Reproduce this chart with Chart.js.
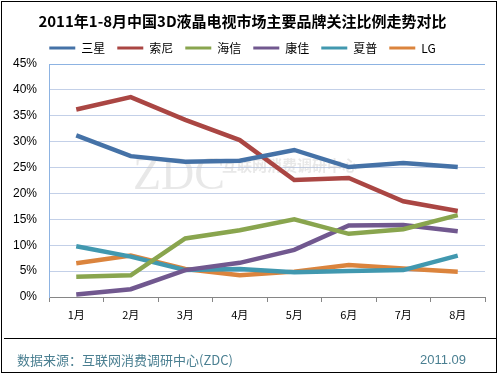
<!DOCTYPE html>
<html>
<head>
<meta charset="utf-8">
<script src="https://cdn.jsdelivr.net/npm/chart.js@4/dist/chart.umd.min.js"></script>
<style>
html,body{margin:0;padding:0;background:#fff;}
#wrap{width:500px;height:375px;position:relative;}
</style>
</head>
<body>
<div id="wrap"><canvas id="c" width="500" height="375"></canvas></div>
<script>
const categories = ['1月','2月','3月','4月','5月','6月','7月','8月'];
const seriesNames = ['三星','索尼','海信','康佳','夏普','LG'];
const samsung = [31.2, 27.2, 26.1, 26.3, 28.4, 25.1, 25.9, 25.1];
const sony    = [36.2, 38.6, 34.2, 30.3, 22.6, 23.0, 18.5, 16.6];
const hisense = [3.9, 4.2, 11.3, 12.9, 15.0, 12.2, 13.1, 15.8];
const konka   = [0.5, 1.5, 5.2, 6.6, 9.1, 13.8, 13.9, 12.7];
const sharp   = [9.8, 7.8, 5.2, 5.4, 4.8, 5.0, 5.2, 8.0];
const lg      = [6.5, 8.0, 5.4, 4.2, 4.9, 6.2, 5.5, 4.9];
const yTicks  = [0, 5, 10, 15, 20, 25, 30, 35, 40, 45];
const colors  = ['#4572A7','#AA4643','#89A54E','#71588F','#4198AF','#DB843D'];
const allSeries = [samsung, sony, hisense, konka, sharp, lg];

const fontFam = '"Noto Sans CJK SC", "Liberation Sans", sans-serif';

const decor = {
  id: 'decor',
  beforeDatasetsDraw(chart) {
    const ctx = chart.ctx;
    ctx.save();
    ctx.fillStyle = 'rgba(195,195,195,0.38)';
    ctx.font = '46px "Liberation Serif", serif';
    ctx.textBaseline = 'alphabetic';
    ctx.textAlign = 'left';
    ctx.fillText('ZDC', 133, 189);
    ctx.font = 'bold 15px ' + fontFam;
    ctx.fillText('互联网消费调研中心', 222, 171);
    ctx.restore();
  },
  afterDraw(chart) {
    const ctx = chart.ctx;
    ctx.save();
    ctx.strokeStyle = '#000';
    ctx.lineWidth = 1;
    ctx.strokeRect(1.5, 1.5, 495, 371);
    ctx.beginPath();
    ctx.moveTo(4, 338.5);
    ctx.lineTo(496, 338.5);
    ctx.stroke();
    ctx.fillStyle = '#4a7f91';
    ctx.font = '13px ' + fontFam;
    ctx.textBaseline = 'middle';
    ctx.textAlign = 'left';
    ctx.fillText('数据来源：互联网消费调研中心(ZDC)', 17, 360);
    ctx.textAlign = 'right';
    ctx.font = '13px "Liberation Sans", sans-serif';
    ctx.fillText('2011.09', 466, 360);
    ctx.restore();
  }
};

new Chart(document.getElementById('c'), {
  type: 'line',
  data: {
    labels: categories,
    datasets: allSeries.map((d, i) => ({
      label: seriesNames[i],
      data: d,
      borderColor: colors[i],
      backgroundColor: colors[i],
      borderWidth: 4.5,
      pointRadius: 0,
      tension: 0,
      fill: false
    }))
  },
  options: {
    responsive: false,
    animation: false,
    devicePixelRatio: 1,
    layout: { padding: { left: 0, right: 15, top: 0, bottom: 45 } },
    plugins: {
      title: {
        display: true,
        text: '2011年1-8月中国3D液晶电视市场主要品牌关注比例走势对比',
        color: '#000',
        font: { family: fontFam, size: 15, weight: 'bold' },
        padding: { top: 12, bottom: 0 }
      },
      legend: {
        display: true,
        labels: {
          boxWidth: 26,
          boxHeight: 3,
          padding: 12,
          color: '#000',
          font: { family: fontFam, size: 12 },
          generateLabels(chart) {
            const items = Chart.defaults.plugins.legend.labels.generateLabels(chart);
            items.forEach(it => { it.lineWidth = 0; });
            return items;
          }
        }
      },
      tooltip: { enabled: false }
    },
    scales: {
      x: {
        offset: true,
        grid: { display: true, drawOnChartArea: false, drawTicks: true, tickLength: 5, color: '#868686', offset: true },
        border: { display: true, color: '#868686', width: 1 },
        ticks: { color: '#000', font: { family: fontFam, size: 11 }, padding: 6, maxRotation: 0 },
        afterFit(s) { s.height = 33; }
      },
      y: {
        min: 0, max: 45,
        afterBuildTicks(s) { s.ticks = yTicks.map(v => ({ value: v })); },
        grid: {
          color: ctx => (ctx.tick && ctx.tick.value === 45) ? '#8db3e2' : '#c3d0e8',
          drawTicks: false, lineWidth: 1
        },
        border: { display: true, color: '#8db3e2', width: 1 },
        ticks: {
          color: '#000',
          font: { family: '"Liberation Sans", sans-serif', size: 12 },
          padding: 12,
          callback: v => v + '%'
        },
        afterFit(s) { s.width = 49; }
      }
    }
  },
  plugins: [decor]
});
</script>
</body>
</html>
